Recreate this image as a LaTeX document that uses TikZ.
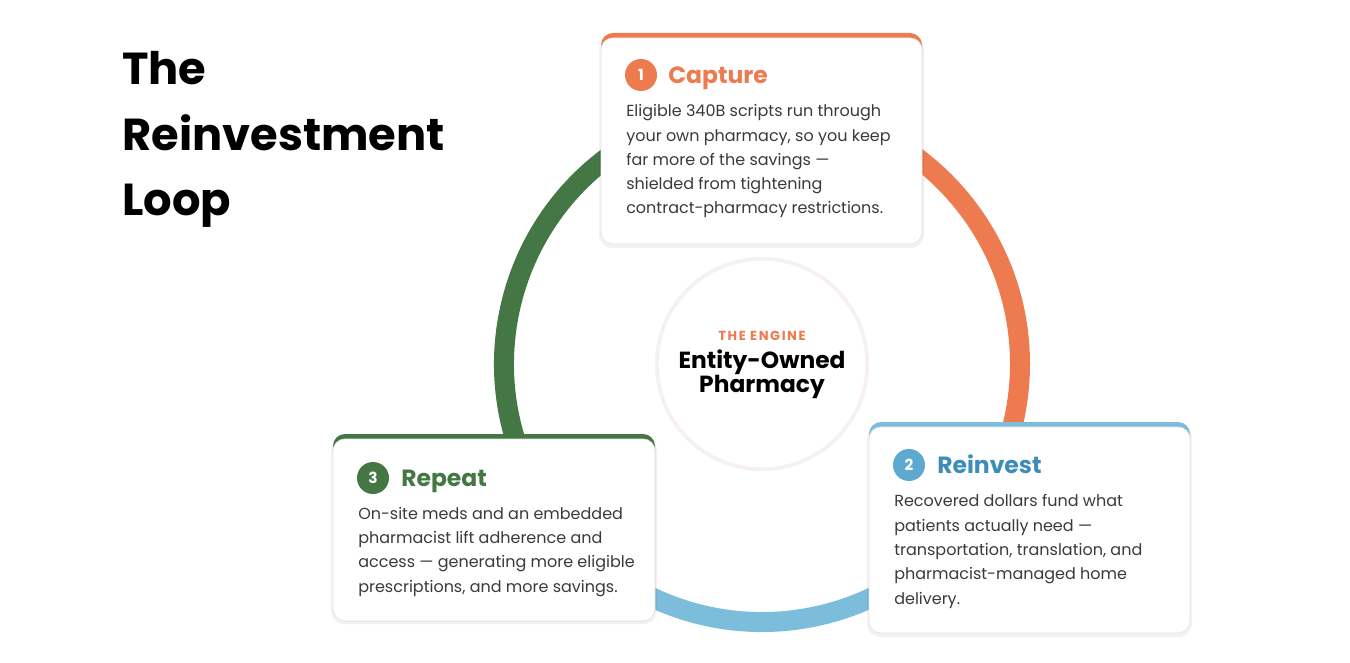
\documentclass[tikz,border=0pt]{standalone}
\usepackage{fontspec}
\setmainfont{Poppins}
\definecolor{capOrange}{HTML}{EE7A4F}
\definecolor{ringBlue}{HTML}{7DBDDC}
\definecolor{reBlue}{HTML}{3D8DBA}
\definecolor{badgeBlue}{HTML}{5DA9D0}
\definecolor{repGreen}{HTML}{447744}
\definecolor{bodyGray}{HTML}{3A3A3A}
\tikzset{
  ring/.style={line width=15pt, draw=#1},
  cardshadow/.style={fill=black, opacity=.05, rounded corners=10pt},
  cardtop/.style={fill=#1, rounded corners=9pt},
  cardface/.style={fill=white, draw=black!9, line width=.6pt, rounded corners=9pt},
  badge/.style={circle, fill=#1, text=white, minimum size=24pt, inner sep=0pt,
    font=\bfseries\fontsize{11.5}{11.5}\selectfont},
  steptitle/.style={anchor=base west, inner sep=0pt, text=#1,
    font=\bfseries\fontsize{17.6}{18}\selectfont},
  body/.style={anchor=base west, inner sep=0pt, align=left, text=bodyGray,
    font=\fontsize{12}{18.2}\selectfont},
}
\begin{document}
\begin{tikzpicture}[x=0.75pt, y=-0.75pt]
\fill[white] (0,0) rectangle (1350,663);
\useasboundingbox (0,0) rectangle (1350,663);

\node[anchor=base west, inner sep=0pt, align=left,
  font=\bfseries\fontsize{33.6}{49.5}\selectfont] (title) at (122,216)
  {The\\Reinvestment\\Loop};

% the loop
\coordinate (hub) at (762,364);
\draw[ring=capOrange] (hub) ++(-90:258) arc[start angle=-90, end angle=30, radius=258];
\draw[ring=ringBlue] (hub) ++(30:258) arc[start angle=30, end angle=150, radius=258];
\draw[ring=repGreen] (hub) ++(150:258) arc[start angle=150, end angle=270, radius=258];

\fill[black, opacity=.05] (hub) circle[radius=107];
\node[circle, fill=white, draw=capOrange!12, line width=1pt, minimum size=156pt] (engine) at (hub) {};
\node[anchor=base, inner sep=0pt, text=capOrange,
  font=\bfseries\fontsize{9.8}{10}\selectfont\addfontfeature{LetterSpace=12}] (engtag) at (762,340) {THE ENGINE};
\node[anchor=base, inner sep=0pt, align=center,
  font=\bfseries\fontsize{17.5}{18}\selectfont] (engname) at (762,392) {Entity-Owned\\Pharmacy};

% capture
\fill[cardshadow] (599,36) rectangle (924,248);
\fill[cardtop=capOrange] (601,33) rectangle (922,244);
\filldraw[cardface] (601,38) rectangle (922,244);
\node[badge=capOrange] (b1) at (641,75) {1};
\node[steptitle=capOrange] (t1) at (668,84) {Capture};
\node[body] (d1) at (626,214) {Eligible 340B scripts run through\\your own pharmacy, so you keep\\far more of the savings —\\shielded from tightening\\contract-pharmacy restrictions.};

% reinvest
\fill[cardshadow] (867,425) rectangle (1192,637);
\fill[cardtop=ringBlue] (869,422) rectangle (1190,633);
\filldraw[cardface] (869,427) rectangle (1190,633);
\node[badge=badgeBlue] (b2) at (909,465) {2};
\node[steptitle=reBlue] (t2) at (937,473) {Reinvest};
\node[body] (d2) at (894,604) {Recovered dollars fund what\\patients actually need —\\transportation, translation, and\\pharmacist-managed home\\delivery.};

% repeat
\fill[cardshadow] (331,437) rectangle (657,624);
\fill[cardtop=repGreen] (333,434) rectangle (655,621);
\filldraw[cardface] (333,439) rectangle (655,621);
\node[badge=repGreen] (b3) at (373,478) {3};
\node[steptitle=repGreen] (t3) at (401,486) {Repeat};
\node[body] (d3) at (358,592) {On-site meds and an embedded\\pharmacist lift adherence and\\access — generating more eligible\\prescriptions, and more savings.};
\end{tikzpicture}
\end{document}
